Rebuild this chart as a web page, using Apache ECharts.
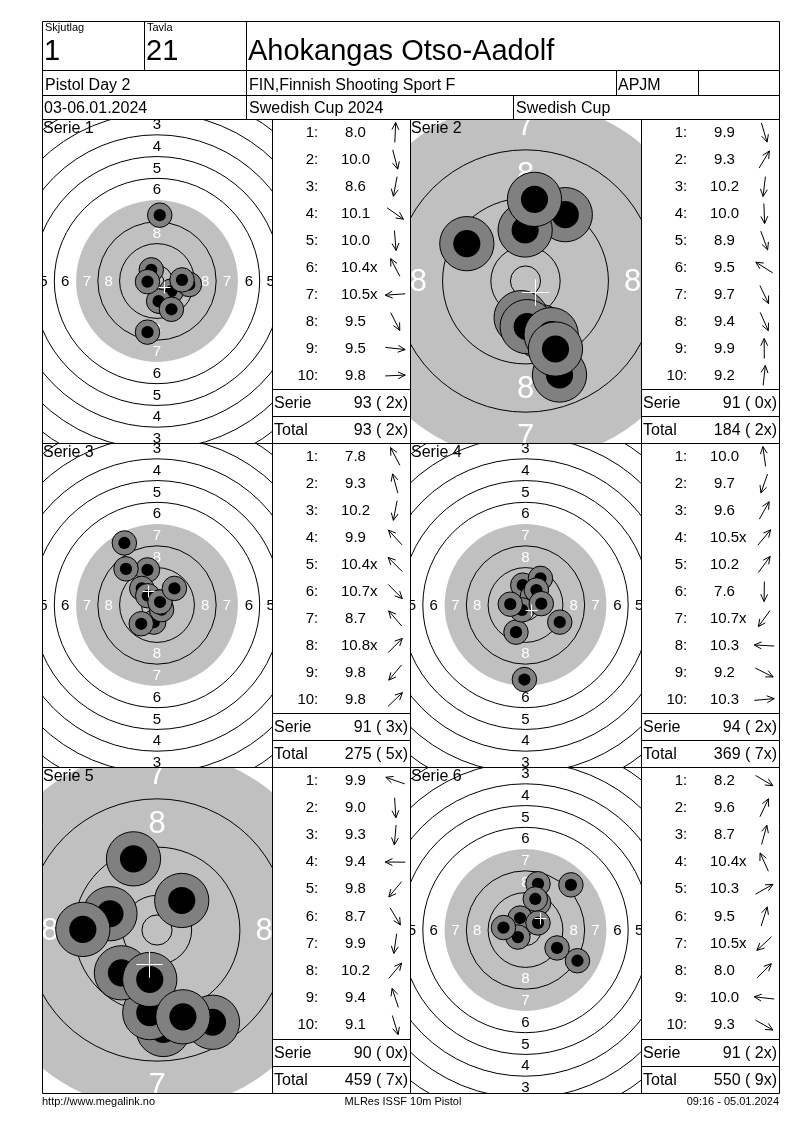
<!DOCTYPE html>
<html><head><meta charset="utf-8">
<script src="https://cdn.jsdelivr.net/npm/echarts@6/dist/echarts.min.js"></script>
<style>html,body{margin:0;padding:0;background:#fff}#c{width:800px;height:1130px}</style>
</head><body><div id="c"></div>
<script>
// ================= DATA =================
const headerLabels = ['Skjutlag', 'Tavla'];
const headerValues = ['1', '21'];
const shooterName = 'Ahokangas Otso-Aadolf';
const eventName = 'Pistol Day 2';
const clubName = 'FIN,Finnish Shooting Sport F';
const classCode = 'APJM';
const dateText = '03-06.01.2024';
const competitionName = 'Swedish Cup 2024';
const competitionShort = 'Swedish Cup';
const footerLeft = 'http://www.megalink.no';
const footerCenter = 'MLRes ISSF 10m Pistol';
const footerRight = '09:16 - 05.01.2024';
const serieNames = ['Serie 1', 'Serie 2', 'Serie 3', 'Serie 4', 'Serie 5', 'Serie 6'];
const tableRowLabels = ['1', '2', '3', '4', '5', '6', '7', '8', '9', '10', 'Serie', 'Total'];

// shot scores (decimal), inner-ten flags, shot positions in mm (x right, y up)
const scores1 = [8.0, 10.0, 8.6, 10.1, 10.0, 10.4, 10.5, 9.5, 9.5, 9.8];
const inner1  = [0, 0, 0, 0, 0, 1, 1, 0, 0, 0];
const shotX1  = [1.0, 2.0, -3.5, 5.3, 0.6, -2.1, -3.5, 5.3, 11.9, 9.2];
const shotY1  = [24.2, -7.7, -18.8, -3.7, -7.4, 4.1, -0.25, -10.4, -1.3, 0.4];

const scores2 = [9.9, 9.3, 10.2, 10.0, 8.9, 9.5, 9.7, 9.4, 9.9, 9.2];
const inner2  = [0, 0, 0, 0, 0, 0, 0, 0, 0, 0];
const shotX2  = [2.5, 6.6, -0.72, 0.28, 5.64, -9.73, 4.26, 4.97, -0.06, 1.49];
const shotY2  = [-8.4, 11.0, -6.08, -7.57, -15.59, 6.19, -8.9, -11.28, 8.46, 13.54];

const scores3 = [7.8, 9.3, 10.2, 9.9, 10.4, 10.7, 8.7, 10.8, 9.8, 9.8];
const inner3  = [0, 0, 0, 0, 1, 1, 0, 1, 0, 0];
const shotX3  = [-12.0, -3.5, -1.2, -5.6, -3.4, 1.7, -11.4, 1.1, -5.8, 6.4];
const shotY3  = [22.8, 12.9, -6.3, 6.1, 3.4, -1.7, 13.3, 1.1, -6.9, 6.1];

const scores4 = [10.0, 9.7, 9.6, 10.5, 10.2, 7.6, 10.7, 10.3, 9.2, 10.3];
const inner4  = [0, 0, 0, 1, 0, 0, 1, 0, 0, 0];
const shotX4  = [-1.0, -3.5, 5.5, 2.5, 4.0, -0.4, -1.3, -5.6, 12.6, 5.8];
const shotY4  = [7.3, -10.0, 9.8, 3.0, 5.5, -27.4, -1.8, 0.3, -6.3, 0.5];

const scores5 = [9.9, 9.0, 9.3, 9.4, 9.8, 8.7, 9.9, 10.2, 9.4, 9.1];
const inner5  = [0, 0, 0, 0, 0, 0, 0, 0, 0, 0];
const shotX5  = [-7.8, 1.05, -1.2, -12.3, -5.9, 9.2, -1.2, 4.1, -3.9, 4.3];
const shotY5  = [2.7, -16.5, -13.7, 0.1, -7.1, -15.3, -8.2, 4.9, 11.8, -14.4];

const scores6 = [8.2, 9.6, 8.7, 10.4, 10.3, 9.5, 10.5, 8.0, 10.0, 9.3];
const inner6  = [0, 0, 0, 1, 0, 0, 1, 0, 0, 0];
const shotX6  = [19.1, 4.8, 4.6, -2.0, 4.6, 3.6, -2.8, 16.7, -8.1, 11.6];
const shotY6  = [-11.3, 10.0, 17.0, 4.4, 2.6, 11.4, -2.6, 16.6, 0.9, -6.6];

// ISSF 10 m air pistol target (mm): ring numbers and outer diameters
const ringNumbers   = [1, 2, 3, 4, 5, 6, 7, 8, 9, 10];
const ringDiameters = [155.5, 139.5, 123.5, 107.5, 91.5, 75.5, 59.5, 43.5, 27.5, 11.5];
const innerTenDiameter = 5.0;
const blackFromRing = 7;
const shotMarkDiameter = 9.0;
const pelletDiameter = 4.5;

// ================= LAYOUT / STYLE =================
const FONT = '"Liberation Sans", Arial, sans-serif';
const targetScale = [2.72, 6.03, 2.72, 2.72, 6.03, 2.72];   // px per mm
const ringLabelFont = [15, 31, 15, 15, 31, 15];
const targetCells = [[42,119,230,324],[410,119,231,324],[42,443,230,324],[410,443,231,324],[42,767,230,326],[410,767,231,326]];
const tableCells  = [[272,119,138,324],[641,119,138,324],[272,443,138,324],[641,443,138,324],[272,767,138,326],[641,767,138,326]];

const allScores = [scores1, scores2, scores3, scores4, scores5, scores6];
const allInner  = [inner1, inner2, inner3, inner4, inner5, inner6];
const allX = [shotX1, shotX2, shotX3, shotX4, shotX5, shotX6];
const allY = [shotY1, shotY2, shotY3, shotY4, shotY5, shotY6];

const measureCtx = document.createElement('canvas').getContext('2d');
function textWidth(t, size) { measureCtx.font = size + 'px ' + FONT; return measureCtx.measureText(t).width; }

// series sums & totals
const serieSum = allScores.map(s => s.reduce((a, v) => a + Math.floor(v + 1e-9), 0));
const serieX = allInner.map(s => s.reduce((a, v) => a + v, 0));
const cumSum = [], cumX = [];
serieSum.forEach((v, i) => { cumSum.push(v + (i ? cumSum[i-1] : 0)); cumX.push(serieX[i] + (i ? cumX[i-1] : 0)); });
const fmtTot = (s, x) => s + ' (' + String(x).padStart(2, ' ') + 'x)';

function ringR(n) { return ringDiameters[ringNumbers.indexOf(n)] / 2; }

function faceRenderer(ti) {
  return function (params, api) {
    const c = api.coord([0, 0]);
    const px = mm => api.size([mm, 0])[0];
    const ch = [];
    ch.push({ type: 'circle', shape: { cx: c[0], cy: c[1], r: px(ringR(blackFromRing)) }, style: { fill: '#c0c0c0' } });
    ringNumbers.forEach(n => {
      if (n === blackFromRing) return;
      ch.push({ type: 'circle', shape: { cx: c[0], cy: c[1], r: px(ringR(n)) }, style: { fill: null, stroke: '#000', lineWidth: 1 } });
    });
    ch.push({ type: 'circle', shape: { cx: c[0], cy: c[1], r: px(innerTenDiameter / 2) }, style: { fill: null, stroke: '#000', lineWidth: 1 } });
    ringNumbers.forEach(n => {
      if (n > 8) return;
      const rr = px((ringR(n) + ringR(n + 1)) / 2);
      const col = n >= blackFromRing ? '#fff' : '#000';
      [[0, -1], [0, 1], [-1, 0], [1, 0]].forEach(d => {
        ch.push({ type: 'text', x: c[0] + d[0] * rr, y: c[1] + d[1] * rr + 1,
          style: { text: String(n), fill: col, fontSize: ringLabelFont[ti], fontFamily: FONT, align: 'center', verticalAlign: 'middle' } });
      });
    });
    const cs = params.coordSys;
    return { type: 'group', children: ch, clipPath: { type: 'rect', shape: { x: cs.x, y: cs.y, width: cs.width, height: cs.height } } };
  };
}

function shotRenderer(params, api) {
  const p = api.coord([api.value(0), api.value(1)]);
  const cs = params.coordSys;
  return { type: 'group', clipPath: { type: 'rect', shape: { x: cs.x, y: cs.y, width: cs.width, height: cs.height } }, children: [
    { type: 'circle', shape: { cx: p[0], cy: p[1], r: api.size([shotMarkDiameter / 2, 0])[0] }, style: { fill: '#808080', stroke: '#000', lineWidth: 1 } },
    { type: 'circle', shape: { cx: p[0], cy: p[1], r: api.size([pelletDiameter / 2, 0])[0] }, style: { fill: '#000' } }
  ] };
}

function crossRenderer(params, api) {
  const p = api.coord([api.value(0), api.value(1)]);
  const h = api.size([2.2, 0])[0];
  const x = Math.round(p[0]) + 0.5, y = Math.round(p[1]) + 0.5;
  return { type: 'group', children: [
    { type: 'line', shape: { x1: x - h, y1: y, x2: x + h, y2: y }, style: { stroke: '#fff', lineWidth: 1 } },
    { type: 'line', shape: { x1: x, y1: y - h, x2: x, y2: y + h }, style: { stroke: '#fff', lineWidth: 1 } }
  ] };
}

function tableRenderer(ti) {
  return function (params, api) {
    const row = api.value(1);
    const L = api.coord([0, row]), R = api.coord([1, row]);
    const W = R[0] - L[0];
    const bandH = api.size([0, 1])[1];
    const cy = L[1];
    const ch = [];
    const txt = (t, x, y, size, align) => ({ type: 'text', x: x, y: y, style: { text: t, fill: '#000', fontSize: size, fontFamily: FONT, align: align, verticalAlign: 'middle' } });
    if (row < 10) {
      const sc = allScores[ti][row];
      const num = sc.toFixed(1);
      ch.push(txt((row + 1) + ':', L[0] + W * 0.335, cy, 15, 'right'));
      const sx = L[0] + W * 0.605;
      ch.push(txt(num, sx, cy, 15, 'center'));
      if (allInner[ti][row]) ch.push(txt('x', sx + textWidth(num, 15) / 2, cy, 15, 'left'));
      // direction arrow from the shot position
      const a = Math.atan2(allY[ti][row], allX[ti][row]);
      const dx = Math.cos(a), dy = -Math.sin(a);
      const ax = L[0] + W * 0.893, half = 10;
      const hx = ax + dx * half, hy = cy + dy * half;
      const tx = ax - dx * half, ty = cy - dy * half;
      const hl = 8, ha = 0.45, base = Math.atan2(dy, dx);
      const b1 = [hx - hl * Math.cos(base - ha), hy - hl * Math.sin(base - ha)];
      const b2 = [hx - hl * Math.cos(base + ha), hy - hl * Math.sin(base + ha)];
      ch.push({ type: 'line', shape: { x1: tx, y1: ty, x2: hx, y2: hy }, style: { stroke: '#000', lineWidth: 1 } });
      ch.push({ type: 'polyline', shape: { points: [b1, [hx, hy], b2] }, style: { stroke: '#000', fill: null, lineWidth: 1 } });
    } else {
      const top = Math.round(cy - bandH / 2) + 0.5;
      ch.push({ type: 'line', shape: { x1: L[0], y1: top, x2: R[0], y2: top }, style: { stroke: '#000', lineWidth: 1 } });
      const label = tableRowLabels[row];
      const val = row === 10 ? fmtTot(serieSum[ti], serieX[ti]) : fmtTot(cumSum[ti], cumX[ti]);
      ch.push(txt(label, L[0] + 2, cy + 1, 16, 'left'));
      ch.push(txt(val, R[0] - 2, cy + 1, 16, 'right'));
    }
    return { type: 'group', children: ch };
  };
}

const grids = [], xAxes = [], yAxes = [], series = [];
for (let i = 0; i < 6; i++) {
  const [l, t, w, h] = targetCells[i];
  const s = targetScale[i];
  grids.push({ left: l, top: t, width: w, height: h, containLabel: false });
  xAxes.push({ type: 'value', gridIndex: i, min: -w / 2 / s, max: w / 2 / s, show: false });
  yAxes.push({ type: 'value', gridIndex: i, min: -h / 2 / s, max: h / 2 / s, show: false });
  series.push({ type: 'custom', xAxisIndex: i, yAxisIndex: i, data: [[0, 0]], renderItem: faceRenderer(i), silent: true, z: 1 });
  const pts = allX[i].map((x, k) => [x, allY[i][k]]);
  series.push({ type: 'custom', xAxisIndex: i, yAxisIndex: i, data: pts, renderItem: shotRenderer, silent: true, z: 2 });
  const mx = allX[i].reduce((a, v) => a + v, 0) / allX[i].length;
  const my = allY[i].reduce((a, v) => a + v, 0) / allY[i].length;
  series.push({ type: 'custom', xAxisIndex: i, yAxisIndex: i, data: [[mx, my]], renderItem: crossRenderer, silent: true, z: 3 });
}
for (let i = 0; i < 6; i++) {
  const [l, t, w, h] = tableCells[i];
  const gi = 6 + i;
  grids.push({ left: l, top: t, width: w, height: h, containLabel: false });
  xAxes.push({ type: 'value', gridIndex: gi, min: 0, max: 1, show: false });
  yAxes.push({ type: 'category', gridIndex: gi, data: tableRowLabels, inverse: true, show: false });
  series.push({ type: 'custom', xAxisIndex: gi, yAxisIndex: gi, data: tableRowLabels.map((r, k) => [0, k]), renderItem: tableRenderer(i), silent: true, z: 4 });
}

// static frame
const G = [];
const ln = (x1, y1, x2, y2) => G.push({ type: 'line', z: 100, shape: { x1, y1, x2, y2 }, style: { stroke: '#000', lineWidth: 1 } });
const tx = (t, x, y, size, align) => G.push({ type: 'text', z: 101, x, y, style: { text: t, fill: '#000', fontSize: size, fontFamily: FONT, align: align || 'left', verticalAlign: 'middle' } });
ln(42.5, 21.5, 779.5, 21.5); ln(42.5, 1093.5, 779.5, 1093.5);
ln(42.5, 21.5, 42.5, 1093.5); ln(779.5, 21.5, 779.5, 1093.5);
ln(42.5, 70.5, 779.5, 70.5); ln(42.5, 95.5, 779.5, 95.5); ln(42.5, 119.5, 779.5, 119.5);
ln(144.5, 21.5, 144.5, 70.5); ln(246.5, 21.5, 246.5, 119.5);
ln(616.5, 70.5, 616.5, 95.5); ln(698.5, 70.5, 698.5, 95.5); ln(513.5, 95.5, 513.5, 119.5);
ln(42.5, 443.5, 779.5, 443.5); ln(42.5, 767.5, 779.5, 767.5);
ln(272.5, 119.5, 272.5, 1093.5); ln(410.5, 119.5, 410.5, 1093.5); ln(641.5, 119.5, 641.5, 1093.5);
tx(headerLabels[0], 45, 28, 11); tx(headerLabels[1], 147, 28, 11);
tx(headerValues[0], 44, 52, 29); tx(headerValues[1], 146, 52, 29);
tx(shooterName, 248, 52, 29);
tx(eventName, 45, 86, 16); tx(clubName, 249, 86, 16); tx(classCode, 618, 86, 16);
tx(dateText, 44, 109, 16); tx(competitionName, 249, 109, 16); tx(competitionShort, 516, 109, 16);
serieNames.forEach((n, i) => tx(n, targetCells[i][0] + 1, targetCells[i][1] + 10, 16));
tx(footerLeft, 42, 1102, 11); tx(footerCenter, 403, 1102, 11, 'center'); tx(footerRight, 779, 1102, 11, 'right');

const chart = echarts.init(document.getElementById('c'), null, { renderer: 'canvas', width: 800, height: 1130 });
chart.setOption({
  animation: false,
  backgroundColor: '#fff',
  grid: grids, xAxis: xAxes, yAxis: yAxes, series: series,
  graphic: { elements: G }
});
</script></body></html>
